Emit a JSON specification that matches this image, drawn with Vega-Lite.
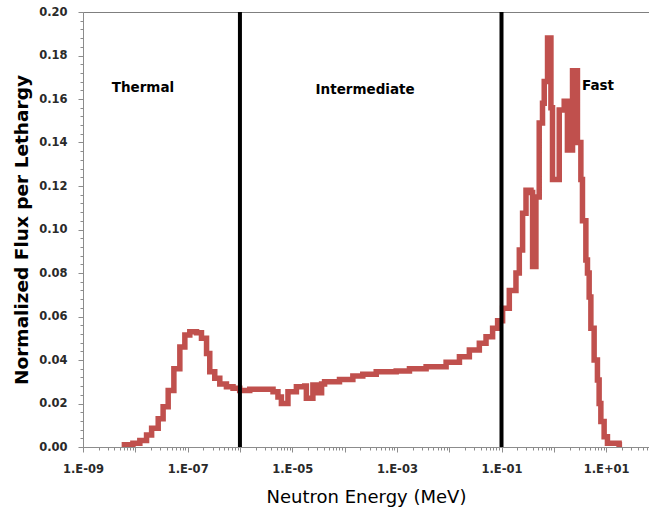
{
  "$schema": "https://vega.github.io/schema/vega-lite/v6.json",
  "width": 566,
  "height": 435,
  "autosize": "none",
  "padding": {"left": 83, "top": 12, "right": 0, "bottom": 67},
  "background": "white",
  "config": {
    "view": {"stroke": "#7f7f7f", "strokeWidth": 1},
    "font": "DejaVu Sans",
    "axis": {"domainColor": "#8c8c8c", "tickColor": "#8c8c8c", "grid": false}
  },
  "datasets": {
    "flux": [
      {"energy_MeV": 5.48e-9, "flux": 0.001},
      {"energy_MeV": 9.0e-9, "flux": 0.0017},
      {"energy_MeV": 1.22e-8, "flux": 0.003},
      {"energy_MeV": 1.64e-8, "flux": 0.0055},
      {"energy_MeV": 2.05e-8, "flux": 0.0086},
      {"energy_MeV": 2.74e-8, "flux": 0.013},
      {"energy_MeV": 3.4e-8, "flux": 0.0185},
      {"energy_MeV": 4.25e-8, "flux": 0.026},
      {"energy_MeV": 5.46e-8, "flux": 0.036},
      {"energy_MeV": 7.1e-8, "flux": 0.046},
      {"energy_MeV": 8.85e-8, "flux": 0.0515},
      {"energy_MeV": 1.1e-7, "flux": 0.053},
      {"energy_MeV": 1.48e-7, "flux": 0.0525},
      {"energy_MeV": 1.84e-7, "flux": 0.05},
      {"energy_MeV": 2.3e-7, "flux": 0.043},
      {"energy_MeV": 2.65e-7, "flux": 0.0346},
      {"energy_MeV": 3.3e-7, "flux": 0.0316},
      {"energy_MeV": 4.12e-7, "flux": 0.029},
      {"energy_MeV": 5.52e-7, "flux": 0.0277},
      {"energy_MeV": 7.38e-7, "flux": 0.027},
      {"energy_MeV": 9.9e-7, "flux": 0.026},
      {"energy_MeV": 1.54e-6, "flux": 0.0265},
      {"energy_MeV": 2.76e-6, "flux": 0.0265},
      {"energy_MeV": 4.29e-6, "flux": 0.0254},
      {"energy_MeV": 5.33e-6, "flux": 0.023},
      {"energy_MeV": 6.2e-6, "flux": 0.02},
      {"energy_MeV": 8.28e-6, "flux": 0.0254},
      {"energy_MeV": 1.2e-5, "flux": 0.0277},
      {"energy_MeV": 1.73e-5, "flux": 0.028},
      {"energy_MeV": 1.86e-5, "flux": 0.0224},
      {"energy_MeV": 2.48e-5, "flux": 0.0285},
      {"energy_MeV": 3.05e-5, "flux": 0.025},
      {"energy_MeV": 3.64e-5, "flux": 0.029},
      {"energy_MeV": 4.15e-5, "flux": 0.03},
      {"energy_MeV": 8.0e-5, "flux": 0.031},
      {"energy_MeV": 1.44e-4, "flux": 0.0326},
      {"energy_MeV": 2.23e-4, "flux": 0.0335},
      {"energy_MeV": 4.03e-4, "flux": 0.0346},
      {"energy_MeV": 9.7e-4, "flux": 0.035},
      {"energy_MeV": 1.74e-3, "flux": 0.036},
      {"energy_MeV": 3.62e-3, "flux": 0.0369},
      {"energy_MeV": 8.73e-3, "flux": 0.039},
      {"energy_MeV": 1.57e-2, "flux": 0.0415},
      {"energy_MeV": 2.43e-2, "flux": 0.0446},
      {"energy_MeV": 3.77e-2, "flux": 0.0477},
      {"energy_MeV": 5.06e-2, "flux": 0.0507},
      {"energy_MeV": 6.76e-2, "flux": 0.0546},
      {"energy_MeV": 8.43e-2, "flux": 0.058},
      {"energy_MeV": 0.105, "flux": 0.0638},
      {"energy_MeV": 0.141, "flux": 0.072},
      {"energy_MeV": 0.189, "flux": 0.08},
      {"energy_MeV": 0.219, "flux": 0.0906},
      {"energy_MeV": 0.253, "flux": 0.1075},
      {"energy_MeV": 0.294, "flux": 0.118},
      {"energy_MeV": 0.366, "flux": 0.117},
      {"energy_MeV": 0.393, "flux": 0.083},
      {"energy_MeV": 0.455, "flux": 0.115},
      {"energy_MeV": 0.526, "flux": 0.149},
      {"energy_MeV": 0.608, "flux": 0.158},
      {"energy_MeV": 0.656, "flux": 0.168},
      {"energy_MeV": 0.759, "flux": 0.188},
      {"energy_MeV": 0.881, "flux": 0.156},
      {"energy_MeV": 0.944, "flux": 0.123},
      {"energy_MeV": 1.27, "flux": 0.155},
      {"energy_MeV": 1.58, "flux": 0.159},
      {"energy_MeV": 1.82, "flux": 0.1366},
      {"energy_MeV": 2.28, "flux": 0.173},
      {"energy_MeV": 2.83, "flux": 0.14},
      {"energy_MeV": 3.29, "flux": 0.123},
      {"energy_MeV": 3.53, "flux": 0.104},
      {"energy_MeV": 4.1, "flux": 0.086},
      {"energy_MeV": 4.4, "flux": 0.08},
      {"energy_MeV": 4.74, "flux": 0.069},
      {"energy_MeV": 5.11, "flux": 0.0546},
      {"energy_MeV": 5.9, "flux": 0.04},
      {"energy_MeV": 6.82, "flux": 0.0308},
      {"energy_MeV": 7.35, "flux": 0.02},
      {"energy_MeV": 7.93, "flux": 0.0117},
      {"energy_MeV": 9.16, "flux": 0.0047},
      {"energy_MeV": 10.6, "flux": 0.0017},
      {"energy_MeV": 17.7, "flux": 0.001},
      {"energy_MeV": 20.2, "flux": 0.001}
    ],
    "boundaries": [
      {"energy_MeV": 1e-6},
      {"energy_MeV": 0.1}
    ],
    "regions": [
      {"label": "Thermal", "energy_MeV": 1.4e-8, "flux": 0.165},
      {"label": "Intermediate", "energy_MeV": 2.47e-4, "flux": 0.164},
      {"label": "Fast", "energy_MeV": 7.0, "flux": 0.166}
    ]
  },
  "encoding": {
    "x": {
      "field": "energy_MeV",
      "type": "quantitative",
      "scale": {"type": "log", "domain": [1e-9, 66], "nice": false},
      "axis": {
        "title": "Neutron Energy (MeV)",
        "titleFontSize": 18,
        "titleFontWeight": "normal",
        "titleColor": "black",
        "titlePadding": 14,
        "values": [1e-9,2e-9,3e-9,4e-9,5e-9,6e-9,7e-9,8e-9,9e-9,1e-8,2e-8,3e-8,4e-8,5e-8,6e-8,7e-8,8e-8,9e-8,1e-7,2e-7,3e-7,4e-7,5e-7,6e-7,7e-7,8e-7,9e-7,1e-6,2e-6,3e-6,4e-6,5e-6,6e-6,7e-6,8e-6,9e-6,1e-5,2e-5,3e-5,4e-5,5e-5,6e-5,7e-5,8e-5,9e-5,1e-4,2e-4,3e-4,4e-4,5e-4,6e-4,7e-4,8e-4,9e-4,1e-3,2e-3,3e-3,4e-3,5e-3,6e-3,7e-3,8e-3,9e-3,1e-2,2e-2,3e-2,4e-2,5e-2,6e-2,7e-2,8e-2,9e-2,0.1,0.2,0.3,0.4,0.5,0.6,0.7,0.8,0.9,1,2,3,4,5,6,7,8,9,10,20,30,40,50,60],
        "labelExpr": "abs(log(datum.value)/LN10 - round(log(datum.value)/LN10)) < 0.001 && (round(log(datum.value)/LN10) % 2 != 0) ? '1.E' + (round(log(datum.value)/LN10) < 0 ? '-' : '+') + pad(toString(abs(round(log(datum.value)/LN10))), 2, '0', 'left') : ''",
        "labelFontSize": 11.5,
        "labelFontWeight": "bold",
        "labelColor": "#2a2a2a",
        "labelPadding": 11,
        "labelOverlap": false,
        "labelFlush": false,
        "tickSize": {"condition": {"test": "abs(log(datum.value)/LN10 - round(log(datum.value)/LN10)) < 0.001", "value": 5}, "value": 3}
      }
    },
    "y": {
      "field": "flux",
      "type": "quantitative",
      "scale": {"domain": [0, 0.2], "nice": false, "zero": true},
      "axis": {
        "title": "Normalized Flux per Lethargy",
        "titleFontSize": 18.5,
        "titleFontWeight": "bold",
        "titleColor": "black",
        "titlePadding": 7,
        "values": [0,0.004,0.008,0.012,0.016,0.02,0.024,0.028,0.032,0.036,0.04,0.044,0.048,0.052,0.056,0.06,0.064,0.068,0.072,0.076,0.08,0.084,0.088,0.092,0.096,0.1,0.104,0.108,0.112,0.116,0.12,0.124,0.128,0.132,0.136,0.14,0.144,0.148,0.152,0.156,0.16,0.164,0.168,0.172,0.176,0.18,0.184,0.188,0.192,0.196,0.2],
        "labelExpr": "abs(datum.value*50 - round(datum.value*50)) < 0.001 ? format(datum.value, '.2f') : ''",
        "labelFontSize": 11.5,
        "labelFontWeight": "bold",
        "labelColor": "#2a2a2a",
        "labelPadding": 11,
        "labelOverlap": false,
        "labelFlush": false,
        "tickSize": {"condition": {"test": "abs(datum.value*50 - round(datum.value*50)) < 0.001", "value": 5}, "value": 3}
      }
    }
  },
  "layer": [
    {
      "data": {"name": "flux"},
      "mark": {"type": "line", "interpolate": "step-after", "color": "#C0504D", "strokeWidth": 5.5, "clip": true}
    },
    {
      "data": {"name": "boundaries"},
      "mark": {"type": "rule", "color": "black", "strokeWidth": 4},
      "encoding": {"y": null}
    },
    {
      "data": {"name": "regions"},
      "mark": {"type": "text", "fontWeight": "bold", "fontSize": 13.5, "color": "black"},
      "encoding": {"text": {"field": "label"}}
    }
  ]
}
